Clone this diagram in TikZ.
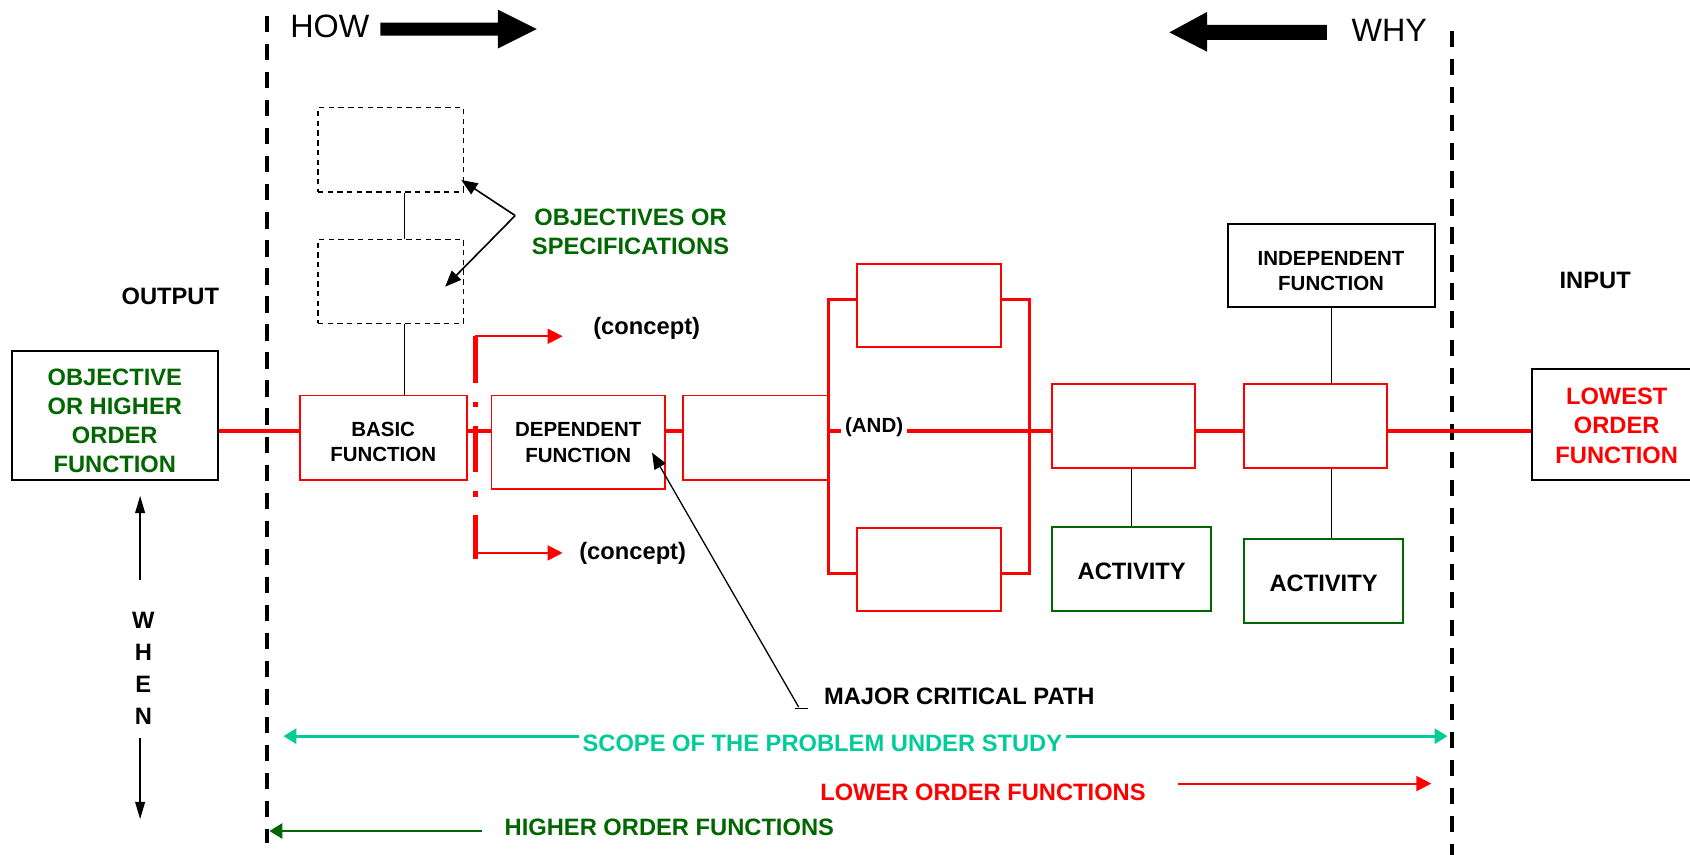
\documentclass[tikz,border=0pt]{standalone}
\usepackage{fontspec}
\setmainfont{Liberation Sans}
\usetikzlibrary{arrows.meta,calc}
\definecolor{vgreen}{RGB}{0,102,0}
\definecolor{vteal}{RGB}{0,204,153}
\definecolor{vred}{RGB}{255,0,0}
\newcommand\myfsz[2]{\fontsize{#1}{#2}\selectfont}
\begin{document}
\begin{tikzpicture}[x=1pt,y=-1pt,
  box/.style={rectangle, inner sep=0pt, line width=1.7pt, align=center},
  redbox/.style={box, draw=vred},
  blkbox/.style={box, draw=black, line width=1.9pt},
  grnbox/.style={box, draw=vgreen, line width=1.9pt},
  dashbox/.style={box, draw=black, line width=1.3pt, dash pattern=on 5pt off 4pt},
  big/.style={font=\myfsz{22}{27}\bfseries, align=center},
  small/.style={font=\myfsz{19}{24}\bfseries, align=center},
  spineline/.style={draw=vred, line width=3.3pt},
  bracket/.style={draw=vred, line width=3.2pt, line join=miter},
  thinline/.style={draw=black, line width=1.1pt},
  vdash/.style={draw=black, line width=3.6pt, dash pattern=on 15pt off 11pt},
  redarrow/.style={draw=vred, line width=1.8pt, -{Triangle[length=14pt,width=14pt]}},
  tealarrow/.style={draw=vteal, line width=2.5pt, -{Triangle[length=12pt,width=14pt]}},
  grnarrow/.style={draw=vgreen, line width=2.5pt, -{Triangle[length=12pt,width=14pt]}},
  blkarrow/.style={draw=black, line width=1.5pt, -{Triangle[length=15pt,width=12pt]}},
  whenarrow/.style={draw=black, line width=1.5pt, -{Triangle[length=16pt,width=9pt]}},
  bigarrow/.style={fill=black}
]
\useasboundingbox (0,0) rectangle (1568,793);

% boundary dashed lines
\coordinate (lt) at (248,15);
\coordinate (lb) at (248,782);
\coordinate (rt) at (1347,29);
\coordinate (rb) at (1347,795);
\draw[vdash] (lt) -- (lb);
\draw[vdash] (rt) -- (rb);

% HOW / WHY
\node[font=\myfsz{30}{36}] (how) at (306,24) {HOW};
\node[font=\myfsz{30}{36}] (why) at (1289,28) {WHY};
\fill[bigarrow] (353,21) -- (462,21) -- (462,9) -- (498,27) -- (462,45) -- (462,33) -- (353,33) -- cycle;
\fill[bigarrow] (1231,23) -- (1120,23) -- (1120,11) -- (1085,30) -- (1120,48) -- (1120,37) -- (1231,37) -- cycle;

% labels
\node[big] (output) at (158,275) {OUTPUT};
\node[big] (input) at (1480,260) {INPUT};

% boxes
\node[blkbox, minimum width=191pt, minimum height=119pt] (obj) at (106.5,385.5) {};
\node[big, text=vgreen] (objtxt) at ($(obj.center)+(0,5)$) {OBJECTIVE\\OR HIGHER\\ORDER\\FUNCTION};
\node[dashbox, minimum width=135pt, minimum height=78pt] (d1) at (362.5,139) {};
\node[dashbox, minimum width=135pt, minimum height=78pt] (d2) at (362.5,261) {};
\node[big, text=vgreen] (spec) at (585,215) {OBJECTIVES OR\\SPECIFICATIONS};
\node[redbox, minimum width=155pt, minimum height=78pt] (basic) at (355.5,406) {};
\node[small] (basictxt) at ($(basic.center)+(0,4)$) {BASIC\\FUNCTION};
\node[redbox, minimum width=161pt, minimum height=87pt] (dep) at (536.5,410.5) {};
\node[small] (deptxt) at ($(dep.center)+(0,0)$) {DEPENDENT\\FUNCTION};
\node[redbox, minimum width=134pt, minimum height=78pt] (b3) at (701,406) {};
\node[redbox, minimum width=134pt, minimum height=77pt] (p1) at (862,283.5) {};
\node[redbox, minimum width=134pt, minimum height=77pt] (p2) at (862,528.5) {};
\node[small] (and) at (811,396) {(AND)};
\node[redbox, minimum width=133pt, minimum height=78pt] (f1) at (1042.5,395) {};
\node[redbox, minimum width=133pt, minimum height=78pt] (f2) at (1220.5,395) {};
\node[blkbox, minimum width=192pt, minimum height=77pt] (indep) at (1235,246.5) {};
\node[small] (indeptxt) at ($(indep.center)+(0,5)$) {INDEPENDENT\\FUNCTION};
\node[grnbox, minimum width=148pt, minimum height=78pt] (a1) at (1050,528) {};
\node[big] (a1txt) at ($(a1.center)+(0,2)$) {ACTIVITY};
\node[grnbox, minimum width=148pt, minimum height=78pt] (a2) at (1228,539) {};
\node[big] (a2txt) at ($(a2.center)+(0,2)$) {ACTIVITY};
\node[blkbox, minimum width=151pt, minimum height=103pt] (low) at (1496.5,393.5) {};
\node[big, text=vred] (lowtxt) at (1500,395) {LOWEST\\ORDER\\FUNCTION};

\node[big] (c1) at (600,305) {(concept)};
\node[big] (c2) at (587,513) {(concept)};
\node[big] (mcp) at (890,646) {MAJOR CRITICAL PATH};
\node[big, text=vteal] (scope) at (763,690) {SCOPE OF THE PROBLEM UNDER STUDY};
\node[big, text=vred, outer xsep=27pt] (lower) at (912,735) {LOWER ORDER FUNCTIONS};
\node[big, text=vgreen, outer xsep=18pt] (higher) at (621,768) {HIGHER ORDER FUNCTIONS};
\node[font=\myfsz{22}{29.5}\bfseries, align=center] (when) at (133,620) {W\\H\\E\\N};

% main spine
\coordinate (spine) at (0,400);
\draw[spineline] (obj.east |- spine) -- (basic.west |- spine);
\draw[spineline] (basic.east |- spine) -- (dep.west |- spine);
\draw[spineline] (dep.east |- spine) -- (b3.west |- spine);
\draw[spineline] (b3.east |- spine) -- (and.west |- spine);
\draw[spineline] (and.east |- spine) -- (f1.west |- spine);
\draw[spineline] (f1.east |- spine) -- (f2.west |- spine);
\draw[spineline] (f2.east |- spine) -- (low.west |- spine);

% AND bracket
\coordinate (brt) at (955,278);
\coordinate (brb) at (955,532);
\draw[bracket] (p1.west |- brt) -| (b3.east |- brb) -- (p2.west |- brb);
\draw[bracket] (p1.east |- brt) -- (brt) -- (brb) -- (p2.east |- brb);

% concept dash-dot line and arrows
\coordinate (ct) at (441,312);
\coordinate (cb) at (441,519);
\draw[vred, line width=5pt, dash pattern=on 43pt off 18pt on 5pt off 17pt] (ct) -- (cb);
\coordinate (ca1) at (441,312);
\coordinate (ct1) at (522,312);
\coordinate (ca2) at (441,513);
\coordinate (ct2) at (522,513);
\draw[redarrow] (ca1) -- (ct1);
\draw[redarrow] (ca2) -- (ct2);

% thin connectors
\coordinate (vx) at (375,0);
\draw[thinline] (d1.south -| vx) -- (d2.north -| vx);
\draw[thinline] (d2.south -| vx) -- (basic.north -| vx);
\draw[thinline] (indep.south) -- (indep.south |- f2.north);
\draw[thinline] (a1.north) -- (a1.north |- f1.south);
\draw[thinline] (f2.south -| indep.south) -- (a2.north -| indep.south);

% objectives arrows
\coordinate (apex) at (478,200);
\coordinate (tip1) at (428,167);
\coordinate (tip2) at (413,266);
\draw[blkarrow] (apex) -- (tip1);
\draw[blkarrow] (apex) -- (tip2);

% major critical path
\coordinate (mfoot) at (741,656);
\coordinate (mtip) at (605,420);
\draw[blkarrow, line width=1.2pt] (mfoot) -- (mtip);
\draw[thinline] ($(mfoot)+(-3,1)$) -- ($(mfoot)+(9,1)$);

% scope / order arrows
\coordinate (sL) at (263,683);
\coordinate (sR) at (1343,683);
\draw[tealarrow] (scope.west |- sL) -- (sL);
\draw[tealarrow] (scope.east |- sR) -- (sR);
\coordinate (lowtip) at (1328,727);
\draw[redarrow] (lower.east |- lowtip) -- (lowtip);
\coordinate (hightip) at (250,771);
\draw[grnarrow] (higher.west |- hightip) -- (hightip);

% WHEN arrows
\coordinate (wupS) at (130,538);
\coordinate (wup) at (130,460);
\coordinate (wdnS) at (130,685);
\coordinate (wdn) at (130,760);
\draw[whenarrow] (wupS) -- (wup);
\draw[whenarrow] (wdnS) -- (wdn);
\end{tikzpicture}
\end{document}
